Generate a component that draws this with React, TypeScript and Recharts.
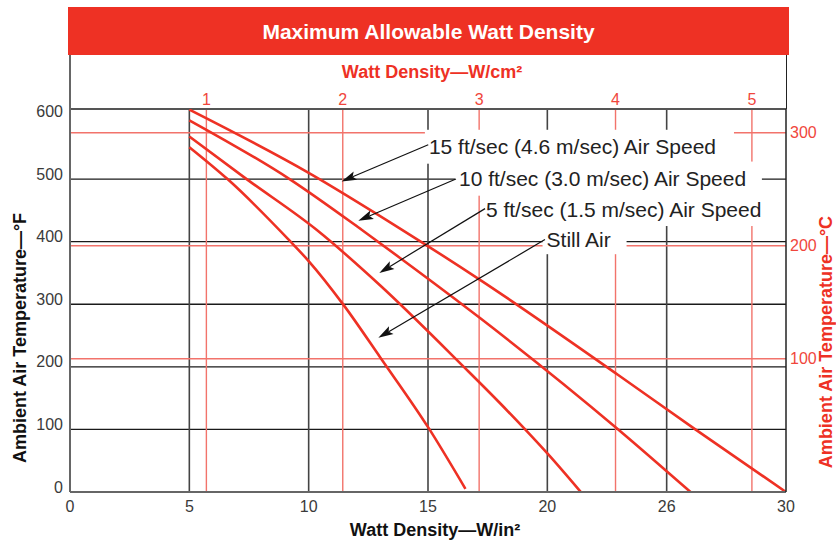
import React from 'react';
import { LineChart, Line, XAxis, YAxis, ReferenceLine, ReferenceArea } from 'recharts';

const FONT = '"Liberation Sans", Arial, Helvetica, sans-serif';
const RED = '#ee3124';
const RED_GRID = '#f2736b';
const RED_TEXT = '#f0463c';

// ---- text ----
const chartTitle = 'Maximum Allowable Watt Density';
const topAxisTitle = 'Watt Density\u2014W/cm\u00b2';
const bottomAxisTitle = 'Watt Density\u2014W/in\u00b2';
const leftAxisTitle = 'Ambient Air Temperature\u2014\u00b0F';
const rightAxisTitle = 'Ambient Air Temperature\u2014\u00b0C';

// ---- axes / ticks ----
const xTicks = [0, 5, 10, 15, 20, 25, 30];
const xTickLabels = ['0', '5', '10', '15', '20', '26', '30'];
const yTicks = [0, 100, 200, 300, 400, 500, 600];
const xGrid = [5, 10, 15, 20, 25];
const yGrid = [100, 200, 300, 400, 500];
const cmTicks = [1, 2, 3, 4, 5];
const cTicks = [100, 200, 300];
const xDomain = [0, 30];
const yDomain = [0, 612];
const cmAtRightEdge = 5.25; // W/cm² scale value printed at the 30 W/in² edge
const cDomain = [-18, 321];

// ---- series (W/in², °F) ----
const stillAirW = [5, 6.6, 9.14, 10, 11.46, 13.0, 15.03, 16.57];
const stillAirF = [551, 500, 404, 369, 299, 215, 102, 5];
const fiveW = [5, 7.4, 10.33, 13.0, 16.5, 17.99, 19.07, 20.04, 21.4];
const fiveF = [568, 500, 419, 330, 200, 143, 100, 60, 0];
const tenW = [5, 9.2, 12.22, 13.83, 17.18, 22.97, 26.0];
const tenF = [594, 500, 419, 374, 278, 100, 0];
const fifteenW = [5, 10, 13.83, 17.18, 22.97, 26.2, 30];
const fifteenF = [611, 510, 421, 339, 187, 100, 0];

// ---- annotations (data units) ----
const labelTexts = [
  '15 ft/sec (4.6 m/sec) Air Speed',
  '10 ft/sec (3.0 m/sec) Air Speed',
  '5 ft/sec (1.5 m/sec) Air Speed',
  'Still Air',
];
const labelBoxX = [
  [14.87, 27.82],
  [16.13, 28.99],
  [17.26, 29.71],
  [19.8, 23.32],
];
const labelBoxY = [
  [524.6, 578.8],
  [473.5, 528],
  [425, 479.4],
  [380, 425.6],
];
const arrowTail = [
  [15.01, 554.9],
  [16.17, 500.2],
  [17.39, 452.8],
  [19.9, 403.3],
];
const arrowHead = [
  [11.38, 496.3],
  [12.08, 433.6],
  [12.96, 350.1],
  [12.92, 246.4],
];

const toData = (ws: number[], fs: number[]) => ws.map((w, i) => ({ w, t: fs[i] }));
const series = [
  { name: 'still', data: toData(stillAirW, stillAirF) },
  { name: 'five', data: toData(fiveW, fiveF) },
  { name: 'ten', data: toData(tenW, tenF) },
  { name: 'fifteen', data: toData(fifteenW, fifteenF) },
];
const cmToIn = xDomain[1] / cmAtRightEdge;

const LeftTick = (p: any) => (
  <text x={p.x} y={p.y - 5} textAnchor="end" dominantBaseline="central" fontFamily={FONT} fontSize={16} fill="#3a3a3a">
    {p.payload.value}
  </text>
);
const BottomTick = (p: any) => (
  <text x={p.x} y={p.y} textAnchor="middle" dominantBaseline="central" fontFamily={FONT} fontSize={16} fill="#3a3a3a">
    {xTickLabels[xTicks.indexOf(p.payload.value)]}
  </text>
);
const RightTick = (p: any) => (
  <text x={p.x} y={p.y} textAnchor="start" dominantBaseline="central" fontFamily={FONT} fontSize={16} fill={RED_TEXT}>
    {p.payload.value}
  </text>
);
const makeTopLabel = (text: string) => (p: any) => {
  const vb = p.viewBox || {};
  return (
    <text x={vb.x} y={vb.y - 10} textAnchor="middle" dominantBaseline="central" fontFamily={FONT} fontSize={16} fill={RED_TEXT}>
      {text}
    </text>
  );
};

const makeBox = (text: string) => (p: any) => (
  <g>
    <rect x={p.x} y={p.y} width={p.width} height={p.height} fill="#ffffff" />
    <text x={p.x + 4} y={p.y + p.height / 2} dominantBaseline="central" fontFamily={FONT} fontSize={21} fill="#222">
      {text}
    </text>
  </g>
);

const Arrow = (p: any) => {
  const x1 = Number(p.x1), y1 = Number(p.y1), x2 = Number(p.x2), y2 = Number(p.y2);
  const dx = x2 - x1, dy = y2 - y1;
  const len = Math.hypot(dx, dy) || 1;
  const ux = dx / len, uy = dy / len;
  const hl = 15, hw = 4.5;
  const bx = x2 - ux * hl, by = y2 - uy * hl;
  const pts = `${x2},${y2} ${bx - uy * hw},${by + ux * hw} ${bx + ux * 3},${by + uy * 3} ${bx + uy * hw},${by - ux * hw}`;
  return (
    <g>
      <line x1={x1} y1={y1} x2={bx + ux * 3} y2={by + uy * 3} stroke="#111" strokeWidth={1.2} />
      <polygon points={pts} fill="#111" />
    </g>
  );
};

const abs = (extra: React.CSSProperties): React.CSSProperties => ({
  position: 'absolute',
  fontFamily: FONT,
  whiteSpace: 'nowrap',
  lineHeight: 1,
  ...extra,
});

export default function App() {
  return (
    <div style={{ position: 'relative', width: 836, height: 544, background: '#fff' }}>
      <style>{`body{margin:0;}`}</style>
      <LineChart width={836} height={544} margin={{ top: 109, right: 10, bottom: 22, left: 10 }}>
        <XAxis
          xAxisId={0}
          type="number"
          dataKey="w"
          domain={xDomain}
          ticks={xTicks}
          interval={0}
          allowDataOverflow
          height={30}
          tickSize={0}
          tickMargin={14}
          tickLine={false}
          axisLine={{ stroke: '#666', strokeWidth: 2 }}
          tick={BottomTick}
        />
        <YAxis
          yAxisId={0}
          type="number"
          domain={yDomain}
          ticks={yTicks}
          interval={0}
          allowDataOverflow
          width={60}
          tickSize={0}
          tickMargin={7}
          tickLine={false}
          axisLine={{ stroke: '#666', strokeWidth: 2 }}
          tick={LeftTick}
        />
        <YAxis
          yAxisId="c"
          orientation="right"
          type="number"
          domain={cDomain}
          ticks={cTicks}
          interval={0}
          allowDataOverflow
          width={40}
          tickSize={0}
          tickMargin={4}
          tickLine={false}
          axisLine={{ stroke: '#222', strokeWidth: 1.5 }}
          tick={RightTick}
        />

        {yGrid.map((v) => (
          <ReferenceLine key={'hy' + v} y={v} stroke="#1a1a1a" strokeWidth={1.4} zIndex={-90} />
        ))}
        {xGrid.map((v) => (
          <ReferenceLine key={'vx' + v} x={v} stroke="#444" strokeWidth={1.6} zIndex={-90} />
        ))}
        {cTicks.map((v) => (
          <ReferenceLine key={'hc' + v} yAxisId="c" y={v} stroke={RED_GRID} strokeWidth={1.6} zIndex={-85} />
        ))}
        {cmTicks.map((v) => (
          <ReferenceLine
            key={'vc' + v}
            x={v * cmToIn}
            stroke={RED_GRID}
            strokeWidth={1.4}
            zIndex={-85}
            label={{ content: makeTopLabel(String(v)) }}
          />
        ))}
        <ReferenceLine y={yDomain[1]} stroke="#555" strokeWidth={2} zIndex={-80} />

        {labelTexts.map((t, i) => (
          <ReferenceArea
            key={'box' + i}
            x1={labelBoxX[i][0]}
            x2={labelBoxX[i][1]}
            y1={labelBoxY[i][0]}
            y2={labelBoxY[i][1]}
            shape={makeBox(t)}
            zIndex={-80}
          />
        ))}

        {series.map((s) => (
          <Line
            key={s.name}
            data={s.data}
            dataKey="t"
            type="monotone"
            stroke={RED}
            strokeWidth={2.6}
            dot={false}
            activeDot={false}
            isAnimationActive={false}
          />
        ))}

        {labelTexts.map((t, i) => (
          <ReferenceLine
            key={'arrow' + i}
            segment={[
              { x: arrowTail[i][0], y: arrowTail[i][1] },
              { x: arrowHead[i][0], y: arrowHead[i][1] },
            ]}
            shape={Arrow}
            zIndex={450}
          />
        ))}
      </LineChart>

      <div
        style={abs({
          left: 68,
          top: 7,
          width: 721,
          height: 48,
          background: RED,
          color: '#fff',
          fontWeight: 'bold',
          fontSize: 21,
          display: 'flex',
          alignItems: 'center',
          justifyContent: 'center',
        })}
      >
        {chartTitle}
      </div>
      <div
        style={{
          position: 'absolute',
          left: 69,
          top: 55,
          width: 718,
          height: 54,
          boxSizing: 'border-box',
          borderLeft: '2px solid #666',
          borderRight: '1.5px solid #222',
        }}
      />
      <div style={abs({ left: 432, top: 72, transform: 'translate(-50%,-50%)', color: RED, fontWeight: 'bold', fontSize: 18 })}>
        {topAxisTitle}
      </div>
      <div style={abs({ left: 435, top: 530, transform: 'translate(-50%,-50%)', color: '#111', fontWeight: 'bold', fontSize: 18 })}>
        {bottomAxisTitle}
      </div>
      <div
        style={abs({ left: 20, top: 338, transform: 'translate(-50%,-50%) rotate(-90deg)', color: '#111', fontWeight: 'bold', fontSize: 18 })}
      >
        {leftAxisTitle}
      </div>
      <div
        style={abs({ left: 826, top: 342, transform: 'translate(-50%,-50%) rotate(-90deg)', color: RED, fontWeight: 'bold', fontSize: 18 })}
      >
        {rightAxisTitle}
      </div>
    </div>
  );
}
